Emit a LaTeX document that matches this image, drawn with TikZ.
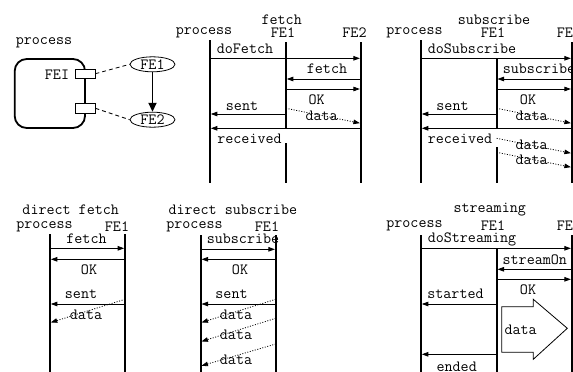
\documentclass[tikz,border=0pt]{standalone}
\usepackage{fontspec}
\usetikzlibrary{arrows.meta,shapes.geometric}
\newcommand\hmsg[4][]{\draw[msg,#1] ([yshift=-#4pt]#2) -- ([yshift=-#4pt]#3);}
\newcommand\dmsgline[4]{\draw[dmsg] ([yshift=-#2pt]#1) -- ([yshift=-#4pt]#3);}
\newcommand\lline[3]{\draw[life] ([yshift=-#2pt]#1) -- ([yshift=-#3pt]#1);}
\begin{document}
\begin{tikzpicture}[x=1pt,y=-1pt,
  txt/.style={font=\ttfamily\fontsize{15.6}{17}\selectfont, inner sep=0pt},
  life/.style={line width=1.8pt},
  msg/.style={line width=0.8pt, shorten >=0.8pt, -{Triangle[length=6.5pt,width=4.5pt]}},
  dmsg/.style={msg, dash pattern=on 1pt off 1.6pt},
  port/.style={draw, fill=white, line width=0.8pt, minimum width=20pt, minimum height=9.5pt, inner sep=0pt},
  fe/.style={txt, draw, ellipse, line width=0.8pt, minimum width=45pt, minimum height=15pt},
]
\fill[white] (0,0) rectangle (573,372);
\useasboundingbox (0,0) rectangle (573,372);

% ---------- panel 1: process ----------
\node[txt] (p1lbl) at (44,43) {process};
\node[draw, line width=1.8pt, rounded corners=12pt, minimum width=70.3pt, minimum height=69pt, inner sep=0pt] (pbox) at (49.85,93.5) {};
\node[port] (port1) at (85,73.7) {};
\node[port] (port2) at (85,108.3) {};
\node[txt] (fei) at (57,75) {FEI};
\node[fe] (e1) at (152.5,64.3) {FE1};
\node[fe] (e2) at (152.5,119.7) {FE2};
\draw[line width=1.8pt, -{Triangle[length=9pt,width=8pt]}] (e1) -- (e2);
\draw[line width=0.8pt, dash pattern=on 4pt off 3pt] (port1.east) -- (e1.west);
\draw[line width=0.8pt, dash pattern=on 4pt off 3pt] (port2.east) -- (e2.west);

% ---------- panel 2: fetch ----------
\coordinate (fP) at (210,0);
\coordinate (fA) at (286,0);
\coordinate (fB) at (360.7,0);
\lline{fP}{40}{183}
\lline{fA}{42}{129}
\lline{fA}{143}{183}
\lline{fB}{42}{183}
\node[txt] (ft) at (281.7,20) {fetch};
\node[txt] (fhp) at (204,33) {process};
\node[txt] (fha) at (283,33) {FE1};
\node[txt] (fhb) at (354.5,33) {FE2};
\node[txt] (fl1) at (245,49) {doFetch};
\hmsg{fP}{fB}{58.3}
\node[txt] (fl2) at (327,69) {fetch};
\hmsg{fB}{fA}{79}
\hmsg{fA}{fB}{89}
\node[txt] (fl3) at (316.7,99.5) {OK};
\node[txt] (fl4) at (242,106) {sent};
\hmsg{fA}{fP}{114}
\dmsgline{fA}{108.3}{fB}{123.3}
\node[txt] (fl5) at (321.7,116) {data};
\hmsg{fB}{fP}{128.3}
\node[txt] (fl6) at (249.5,139) {received};

% ---------- panel 3: subscribe ----------
\coordinate (sP) at (421,0);
\coordinate (sA) at (496.7,0);
\coordinate (sB) at (571.7,0);
\lline{sP}{40}{183}
\lline{sA}{58}{129}
\lline{sA}{147}{183}
\lline{sB}{42}{183}
\node[txt] (st) at (494,20) {subscribe};
\node[txt] (shp) at (414.5,33) {process};
\node[txt] (sha) at (493,33) {FE1};
\node[txt] (shb) at (569,33) {FE2};
\node[txt] (sl1) at (472,49) {doSubscribe};
\hmsg{sP}{sB}{58.3}
\node[txt] (sl2) at (539,69) {subscribe};
\hmsg{sB}{sA}{79}
\hmsg{sA}{sB}{89}
\node[txt] (sl3) at (528,99.5) {OK};
\node[txt] (sl4) at (452.5,106) {sent};
\hmsg{sA}{sP}{114}
\dmsgline{sA}{108.3}{sB}{123.3}
\node[txt] (sl5) at (531.7,116) {data};
\hmsg{sB}{sP}{128.3}
\node[txt] (sl6) at (460,139) {received};
\dmsgline{sA}{138.3}{sB}{153.3}
\node[txt] (sl7) at (531.7,145) {data};
\dmsgline{sA}{152.3}{sB}{167.3}
\node[txt] (sl8) at (531.7,160) {data};

% ---------- panel 4: direct fetch ----------
\coordinate (dP) at (50,0);
\coordinate (dA) at (125,0);
\lline{dP}{234}{372}
\lline{dA}{234}{372}
\node[txt] (dt) at (70.7,210) {direct fetch};
\node[txt] (dhp) at (44.5,226.7) {process};
\node[txt] (dha) at (117,226.7) {FE1};
\node[txt] (dl1) at (86.5,239) {fetch};
\hmsg{dP}{dA}{248.3}
\hmsg{dA}{dP}{259.3}
\node[txt] (dl2) at (89,270) {OK};
\node[txt] (dl3) at (81,294) {sent};
\hmsg{dA}{dP}{304}
\dmsgline{dA}{299.3}{dP}{322.7}
\node[txt] (dl4) at (86,315) {data};

% ---------- panel 5: direct subscribe ----------
\coordinate (eP) at (200.7,0);
\coordinate (eA) at (275.7,0);
\lline{eP}{235}{372}
\lline{eA}{235}{372}
\node[txt] (et) at (232.8,210) {direct subscribe};
\node[txt] (ehp) at (194.5,226.7) {process};
\node[txt] (eha) at (267,226.7) {FE1};
\node[txt] (el1) at (243,239) {subscribe};
\hmsg{eP}{eA}{249.3}
\hmsg{eA}{eP}{259.3}
\node[txt] (el2) at (240,270) {OK};
\node[txt] (el3) at (231.5,294) {sent};
\hmsg{eA}{eP}{304}
\dmsgline{eA}{299.3}{eP}{322.7}
\node[txt] (el4) at (236,315) {data};
\dmsgline{eA}{318.3}{eP}{341.7}
\node[txt] (el5) at (236,335) {data};
\dmsgline{eA}{344}{eP}{366}
\node[txt] (el6) at (236,360) {data};

% ---------- panel 6: streaming ----------
\coordinate (gP) at (421,0);
\coordinate (gA) at (496.7,0);
\coordinate (gB) at (571.7,0);
\lline{gP}{235}{372}
\lline{gA}{248.3}{372}
\lline{gB}{235}{372}
\node[txt] (gt) at (489.7,210) {streaming};
\node[txt] (ghp) at (414.5,225.7) {process};
\node[txt] (gha) at (493,225.7) {FE1};
\node[txt] (ghb) at (569,225.7) {FE2};
\node[txt] (gl1) at (472,239) {doStreaming};
\hmsg{gP}{gB}{248.3}
\node[txt] (gl2) at (534.8,260) {streamOn};
\hmsg{gB}{gA}{269.3}
\hmsg{gA}{gB}{279.3}
\node[txt] (gl3) at (528,290) {OK};
\node[txt] (gl4) at (455.5,294) {started};
\hmsg{gA}{gP}{304}
\draw[line width=0.8pt, line join=miter] (501.7,306.7) -- (533.3,306.7) -- (533.3,299.3) -- (567.3,328.3) -- (533.3,359.3) -- (533.3,352.3) -- (501.7,352.3) -- cycle;
\node[txt] (gl5) at (520.7,330) {data};
\hmsg{gA}{gP}{354.3}
\node[txt] (gl6) at (456.7,366.7) {ended};
\end{tikzpicture}
\end{document}
